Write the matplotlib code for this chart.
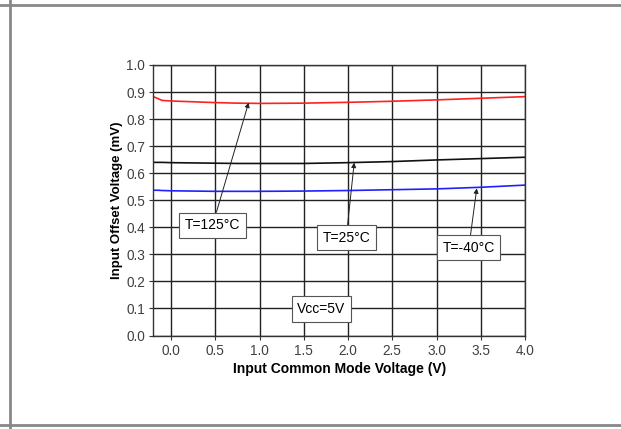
import matplotlib
matplotlib.use("Agg")
import matplotlib.pyplot as plt
from matplotlib.lines import Line2D

plt.rcParams['font.family'] = ['Liberation Sans', 'DejaVu Sans']

# Input common mode voltage (V)
vcm = [-0.2, -0.15, -0.1, 0.0, 0.25, 0.5, 0.75, 1.0, 1.5, 2.0, 2.5, 3.0, 3.5, 4.0]
# Input offset voltage (mV) per temperature
t125 = [0.883, 0.876, 0.869, 0.867, 0.864, 0.861, 0.859, 0.858, 0.859, 0.862, 0.866, 0.871, 0.877, 0.883]
t25 = [0.640, 0.640, 0.640, 0.639, 0.638, 0.637, 0.636, 0.636, 0.636, 0.639, 0.643, 0.649, 0.654, 0.659]
tm40 = [0.537, 0.537, 0.536, 0.535, 0.534, 0.533, 0.533, 0.533, 0.534, 0.536, 0.539, 0.542, 0.548, 0.556]

xticks = [0.0, 0.5, 1.0, 1.5, 2.0, 2.5, 3.0, 3.5, 4.0]
yticks = [0.0, 0.1, 0.2, 0.3, 0.4, 0.5, 0.6, 0.7, 0.8, 0.9, 1.0]

fig = plt.figure(figsize=(6.21, 4.29), dpi=100)
ax = fig.add_axes([0.2469, 0.2179, 0.5985, 0.6306])

ax.plot(vcm, t125, color='#ff2020', linewidth=1.2)
ax.plot(vcm, t25, color='#111111', linewidth=1.2)
ax.plot(vcm, tm40, color='#2020ff', linewidth=1.2)

ax.set_xlim(-0.2, 4.0)
ax.set_ylim(0.0, 1.0)
ax.set_xticks(xticks)
ax.set_yticks(yticks)
ax.set_xticklabels(['%.1f' % v for v in xticks])
ax.set_yticklabels(['%.1f' % v for v in yticks])
ax.grid(True, color='#222222', linewidth=1.0)
ax.set_axisbelow(True)
for s in ax.spines.values():
    s.set_color('#333333')
    s.set_linewidth(1.0)
ax.tick_params(axis='both', labelsize=9.8, labelcolor='#404040', color='#333333',
               length=3, direction='out', pad=3)

ax.set_xlabel('Input Common Mode Voltage (V)', fontsize=10, fontweight='bold', labelpad=3)
ax.set_ylabel('Input Offset Voltage (mV)', fontsize=9.5, fontweight='bold', labelpad=2)

box = dict(boxstyle='square,pad=0.4', facecolor='white', edgecolor='#555555', linewidth=0.8)
arrow = dict(arrowstyle='-|>', color='#222222', linewidth=0.7, mutation_scale=7, shrinkA=0, shrinkB=0)

ax.annotate('T=125°C', xy=(0.877, 0.861), xytext=(0.47, 0.408), fontsize=10,
            ha='center', va='center', bbox=box, arrowprops=arrow)
ax.annotate('T=25°C', xy=(2.07, 0.639), xytext=(1.98, 0.362), fontsize=10,
            ha='center', va='center', bbox=box, arrowprops=arrow)
ax.annotate('T=-40°C', xy=(3.455, 0.544), xytext=(3.365, 0.324), fontsize=10,
            ha='center', va='center', bbox=box, arrowprops=arrow)
ax.text(1.70, 0.098, 'Vcc=5V', fontsize=10, ha='center', va='center', bbox=box)

# page frame lines
fig.add_artist(Line2D([0, 1], [0.9883, 0.9883], color='#888888', linewidth=2, transform=fig.transFigure))
fig.add_artist(Line2D([0, 1], [0.0093, 0.0093], color='#888888', linewidth=2, transform=fig.transFigure))
fig.add_artist(Line2D([0.0161, 0.0161], [0, 1], color='#888888', linewidth=2, transform=fig.transFigure))

fig.savefig('out.png', dpi=100)
